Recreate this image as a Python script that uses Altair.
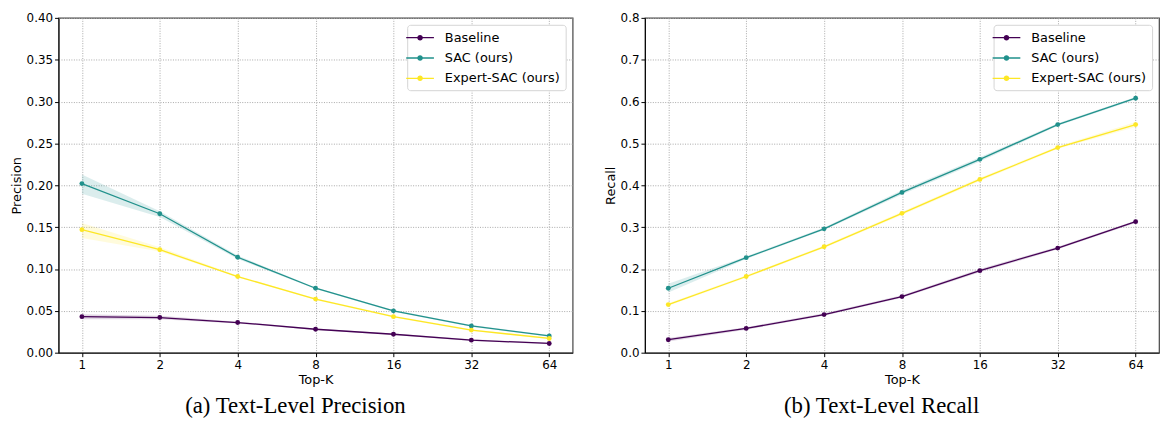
import altair as alt
import pandas as pd

topk = ["1", "2", "4", "8", "16", "32", "64"]
series_names = ["Baseline", "SAC (ours)", "Expert-SAC (ours)"]
series_colors = ["#440154", "#21918c", "#fde725"]

# Text-level precision (mean, lower, upper)
prec_baseline = [0.043, 0.042, 0.036, 0.028, 0.022, 0.015, 0.011]
prec_baseline_lo = [0.040, 0.040, 0.035, 0.027, 0.021, 0.014, 0.010]
prec_baseline_hi = [0.046, 0.044, 0.037, 0.029, 0.023, 0.016, 0.012]
prec_sac = [0.202, 0.166, 0.114, 0.077, 0.050, 0.032, 0.020]
prec_sac_lo = [0.190, 0.162, 0.112, 0.076, 0.049, 0.031, 0.019]
prec_sac_hi = [0.213, 0.169, 0.116, 0.078, 0.051, 0.033, 0.021]
prec_expert = [0.147, 0.123, 0.091, 0.064, 0.043, 0.027, 0.017]
prec_expert_lo = [0.137, 0.121, 0.090, 0.063, 0.042, 0.026, 0.016]
prec_expert_hi = [0.155, 0.126, 0.092, 0.065, 0.044, 0.028, 0.018]

# Text-level recall (mean, lower, upper)
rec_baseline = [0.031, 0.058, 0.091, 0.134, 0.196, 0.250, 0.313]
rec_baseline_lo = [0.027, 0.055, 0.088, 0.131, 0.192, 0.247, 0.310]
rec_baseline_hi = [0.035, 0.061, 0.094, 0.137, 0.200, 0.253, 0.316]
rec_sac = [0.154, 0.227, 0.296, 0.383, 0.462, 0.545, 0.608]
rec_sac_lo = [0.144, 0.224, 0.293, 0.378, 0.457, 0.542, 0.605]
rec_sac_hi = [0.165, 0.230, 0.299, 0.388, 0.467, 0.548, 0.611]
rec_expert = [0.115, 0.182, 0.253, 0.333, 0.414, 0.490, 0.545]
rec_expert_lo = [0.112, 0.179, 0.250, 0.329, 0.410, 0.487, 0.539]
rec_expert_hi = [0.118, 0.185, 0.256, 0.337, 0.418, 0.493, 0.551]

prec_ticks = [0.0, 0.05, 0.10, 0.15, 0.20, 0.25, 0.30, 0.35, 0.40]
rec_ticks = [0.0, 0.1, 0.2, 0.3, 0.4, 0.5, 0.6, 0.7, 0.8]


def make_frame(vals, los, his):
    rows = []
    for name, v, lo, hi in zip(series_names, vals, los, his):
        for k, a, b, c in zip(topk, v, lo, hi):
            rows.append({"k": k, "series": name, "value": a, "lo": b, "hi": c})
    return pd.DataFrame(rows)


prec_df = make_frame([prec_baseline, prec_sac, prec_expert],
                     [prec_baseline_lo, prec_sac_lo, prec_expert_lo],
                     [prec_baseline_hi, prec_sac_hi, prec_expert_hi])
rec_df = make_frame([rec_baseline, rec_sac, rec_expert],
                    [rec_baseline_lo, rec_sac_lo, rec_expert_lo],
                    [rec_baseline_hi, rec_sac_hi, rec_expert_hi])


def circ(r):
    return f"M{r},0A{r},{r},0,1,1,{-r},0A{r},{r},0,1,1,{r},0"


LEG_PATH = "M-2,0H2" + "".join(circ(r) for r in [0.07, 0.15, 0.23, 0.31])


def panel(df, ytitle, ymax, ticks, fmt, caption, dx):
    x = alt.X("k:O", sort=topk,
              scale=alt.Scale(type="point", padding=0.3),
              axis=alt.Axis(title="Top-K", labelAngle=0, grid=True, titlePadding=3, labelPadding=3))
    yscale = alt.Scale(domain=[0, ymax], nice=False, zero=True)
    yaxis = alt.Axis(title=ytitle, values=ticks, format=fmt, titlePadding=3, labelPadding=2)
    cscale = alt.Scale(domain=series_names, range=series_colors)
    base = alt.Chart(df)
    band = base.mark_area(opacity=0.16).encode(
        x=x,
        y=alt.Y("lo:Q", scale=yscale, axis=yaxis),
        y2="hi:Q",
        fill=alt.Fill("series:N", scale=cscale, legend=None),
    )
    line = base.mark_line(strokeWidth=1.3).encode(
        x=x,
        y=alt.Y("value:Q", scale=yscale, axis=yaxis),
        color=alt.Color("series:N", scale=cscale,
                        legend=alt.Legend(title=None, orient="top-right", offset=7,
                                          padding=5, strokeColor="#d4d4d4", fillColor="white",
                                          cornerRadius=3, labelFont="DejaVu Sans",
                                          labelFontSize=13, labelColor="black",
                                          symbolType=LEG_PATH, symbolSize=196,
                                          symbolStrokeWidth=1.3, labelOffset=17,
                                          rowPadding=5.5)),
    )
    pts = base.mark_circle(size=24, opacity=1).encode(
        x=x,
        y=alt.Y("value:Q", scale=yscale, axis=yaxis),
        fill=alt.Fill("series:N", scale=cscale, legend=None),
    )
    return alt.layer(band, line, pts).properties(
        width=519, height=338,
        title=alt.TitleParams(caption, orient="bottom", anchor="middle", frame="bounds",
                              font="Liberation Serif", fontSize=23, fontWeight="normal",
                              color="black", offset=9, dx=dx),
    ).resolve_scale(color="independent")


left = panel(prec_df, "Precision", 0.40, prec_ticks, ".2f", "(a) Text-Level Precision", 4)
right = panel(rec_df, "Recall", 0.8, rec_ticks, ".1f", "(b) Text-Level Recall", 0)

chart = alt.hconcat(left, right, spacing=30).resolve_scale(
    color="independent", fill="independent"
).resolve_legend(color="independent").properties(
    padding={"left": 1, "top": 1, "right": 0, "bottom": 0}
).configure_view(
    stroke="#444", strokeWidth=1.2
).configure_axis(
    labelFont="DejaVu Sans", labelFontSize=12, labelColor="black",
    titleFont="DejaVu Sans", titleFontSize=13, titleFontWeight="normal", titleColor="black",
    domainColor="black", domainWidth=1, tickColor="black", tickSize=4,
    gridColor="#a8a8a8", gridDash=[1, 1.5], gridWidth=1,
)

chart.save("out.html", embed_options={"renderer": "svg", "actions": False})
